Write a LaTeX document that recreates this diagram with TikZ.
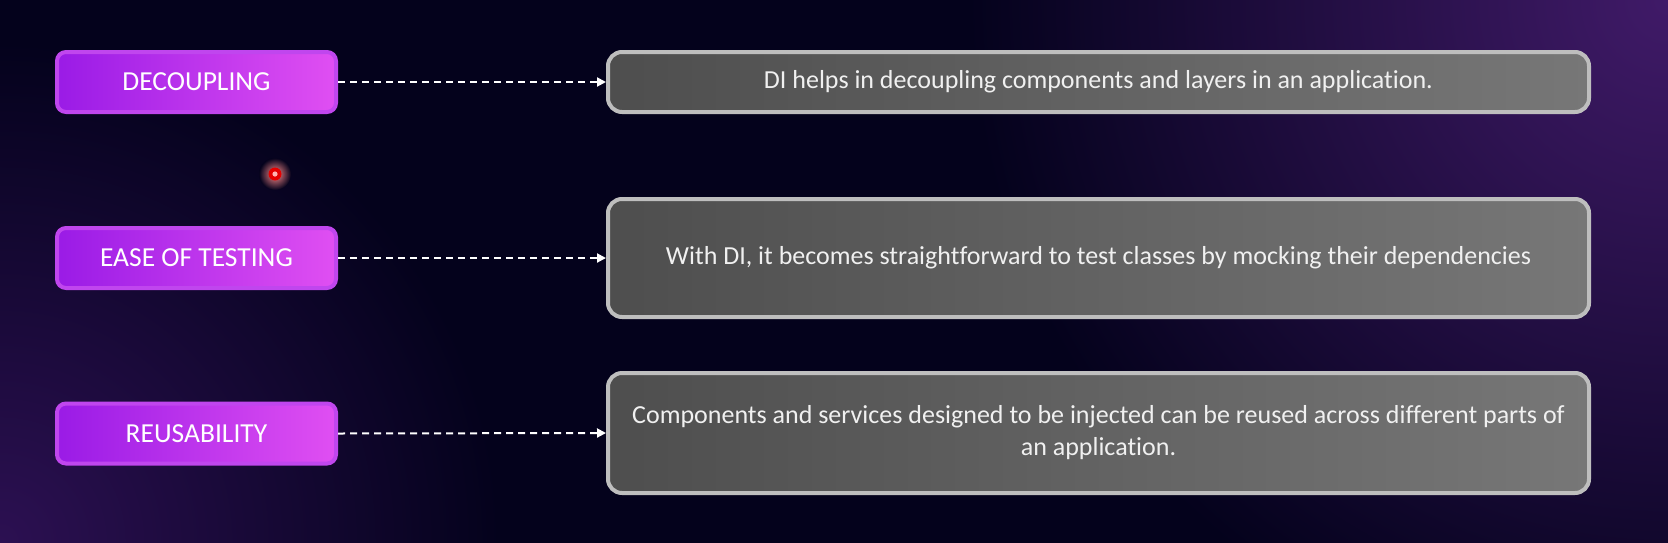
\documentclass[tikz,border=0pt]{standalone}
\usepackage{fontspec}
\setmainfont{Carlito}[RawFeature={-liga}]
\usetikzlibrary{arrows.meta}
\definecolor{bg}{HTML}{04021C}
\definecolor{glowA}{HTML}{401A68}
\definecolor{glowB}{HTML}{2C1052}
\definecolor{purL}{HTML}{9A1BE6}
\definecolor{purR}{HTML}{E04FF2}
\definecolor{purB}{HTML}{C046EE}
\definecolor{grayL}{HTML}{4E4E4E}
\definecolor{grayR}{HTML}{777777}
\definecolor{grayB}{HTML}{BEBEBE}
\tikzset{
  x=1pt, y=-1pt,
  lbl/.style={rounded corners=9pt, left color=purL, right color=purR, draw=purB,
    line width=4pt, minimum width=279pt, minimum height=60pt, inner sep=0pt,
    text=white, font=\fontsize{27.5}{31}\selectfont},
  desc/.style={rounded corners=14pt, left color=grayL, right color=grayR, draw=grayB,
    line width=4pt, minimum width=981pt, inner sep=0pt, align=center,
    text=white!94!black, font=\fontsize{26}{32}\selectfont},
  conn/.style={draw=white, line width=2pt, dash pattern=on 7pt off 5pt,
    -{Triangle[length=9pt,width=9pt]}}
}
\begin{document}
\begin{tikzpicture}
\useasboundingbox (0,0) rectangle (1668,542);
\fill[bg] (-6,-6) rectangle (1674,548);
\begin{scope}
\clip (-6,-6) rectangle (1674,548);
\shade[inner color=glowA, outer color=bg] (1668,0) circle (700);
\shade[inner color=glowB, outer color=bg] (0,542) circle (500);
\end{scope}
% laser dot
\shade[inner color=red!45!white, outer color=bg] (275,174) circle (16);
\fill[red!90!black] (275,174) circle (6.5);
\fill[red!30!white] (275,174) circle (2.6);

\node[lbl] (l1) at (196.5,82) {DECOUPLING};
\node[lbl] (l2) at (196.5,258) {EASE OF TESTING};
\node[lbl] (l3) at (196.5,433.5) {REUSABILITY};

\node[desc, minimum height=60pt] (r1) at (1098.5,82) {DI helps in decoupling components and layers in an application.};
\node[desc, minimum height=118pt] (r2) at (1098.5,258) {With DI, it becomes straightforward to test classes by mocking their dependencies};
\node[desc, minimum height=120pt] (r3) at (1098.5,433) {Components and services designed to be injected can be reused across different parts of\\an application.};

\draw[conn] (l1.east) -- (r1.west);
\draw[conn] (l2.east) -- (r2.west);
\draw[conn] (l3.east) -- (r3.west);
\end{tikzpicture}
\end{document}
